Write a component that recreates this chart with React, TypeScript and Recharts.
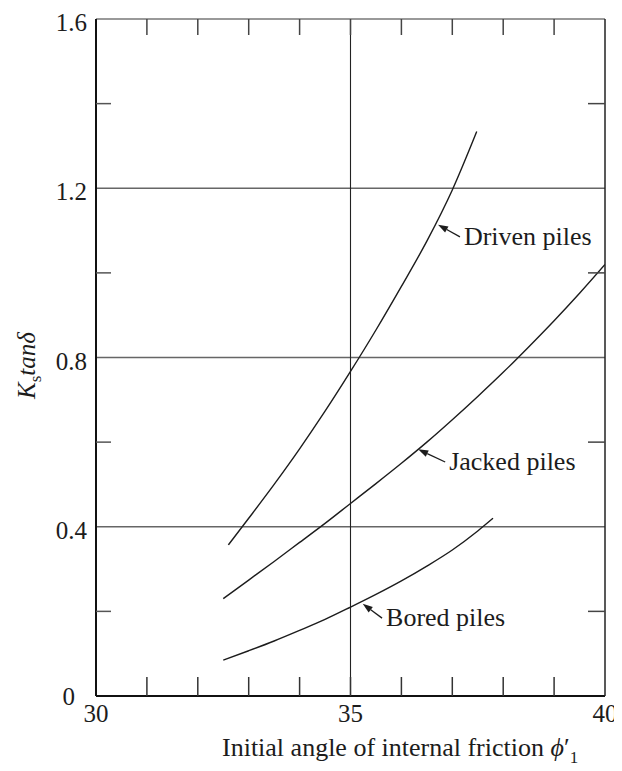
import { Line, LineChart, ReferenceLine, XAxis, YAxis } from 'recharts';

// axis ticks
const xTicks = [30, 35, 40];
const xMinorTicks = [31, 32, 33, 34, 35, 36, 37, 38, 39];
const yTicks = [0, 0.4, 0.8, 1.2, 1.6];
const yMinorTicks = [0.2, 0.6, 1.0, 1.4];
const gridY = [0.4, 0.8, 1.2];
const gridX = [35];

// phi' (deg) vs Ks tan(delta)
const drivenPhi = [32.6, 33, 33.5, 34, 34.5, 35, 35.5, 36, 36.5, 37, 37.48];
const drivenK = [0.357, 0.42, 0.5, 0.584, 0.673, 0.767, 0.865, 0.968, 1.075, 1.196, 1.334];

const jackedPhi = [32.5, 33, 33.5, 34, 34.5, 35, 35.5, 36, 36.5, 37, 37.5, 38, 38.5, 39, 39.5, 40];
const jackedK = [0.23, 0.274, 0.318, 0.363, 0.408, 0.455, 0.502, 0.55, 0.6, 0.653, 0.708, 0.765, 0.825, 0.887, 0.952, 1.02];

const boredPhi = [32.5, 33, 33.5, 34, 34.5, 35, 35.5, 36, 36.5, 37, 37.5, 37.8];
const boredK = [0.085, 0.107, 0.13, 0.155, 0.181, 0.21, 0.24, 0.272, 0.307, 0.345, 0.39, 0.42];

const zip = (xs: number[], ys: number[]) => xs.map((phi, i) => ({ phi, k: ys[i] }));
const driven = zip(drivenPhi, drivenK);
const jacked = zip(jackedPhi, jackedK);
const bored = zip(boredPhi, boredK);

// leader arrows: [tail, tip] in data units
const notes = [
  { text: 'Driven piles', tail: { x: 37.15, y: 1.085 }, tip: { x: 36.72, y: 1.114 } },
  { text: 'Jacked piles', tail: { x: 36.86, y: 0.553 }, tip: { x: 36.33, y: 0.583 } },
  { text: 'Bored piles', tail: { x: 35.62, y: 0.184 }, tip: { x: 35.24, y: 0.218 } },
];

const FONT = '"Liberation Serif", "Times New Roman", serif';
const INK = '#1c1c1c';

const noLabel = () => <g />;

function XTick({ x, y, payload }: any) {
  return (
    <text x={x} y={y} dy={26} textAnchor="middle" fontFamily={FONT} fontSize={25} fill={INK}>
      {payload.value}
    </text>
  );
}

function YTick({ x, y, payload }: any) {
  const zero = payload.value === 0;
  return (
    <text
      x={x}
      y={y}
      dx={zero ? -21 : -9}
      dy={zero ? 9 : 12}
      textAnchor="end"
      fontFamily={FONT}
      fontSize={25}
      fill={INK}
    >
      {zero ? '0' : payload.value.toFixed(1)}
    </text>
  );
}

function XTitle({ viewBox }: any) {
  return (
    <text x={viewBox.x + 126} y={viewBox.y + 60} fontFamily={FONT} fontSize={26} fill={INK}>
      Initial angle of internal friction{' '}
      <tspan fontStyle="italic">ϕ</tspan>
      <tspan>′</tspan>
      <tspan dx={0} dy={7} fontSize={17}>1</tspan>
    </text>
  );
}

function YTitle({ viewBox }: any) {
  const cx = viewBox.x + 27;
  const cy = viewBox.y + viewBox.height / 2 + 8;
  return (
    <text
      x={cx}
      y={cy}
      transform={`rotate(-90 ${cx} ${cy})`}
      textAnchor="middle"
      fontFamily={FONT}
      fontSize={25}
      fill={INK}
    >
      <tspan fontStyle="italic">K</tspan>
      <tspan fontSize={17} dy={6}>s</tspan>
      <tspan fontStyle="italic" dy={-6}>tanδ</tspan>
    </text>
  );
}

function Leader({ x1, y1, x2, y2, text }: any) {
  const a = Math.atan2(y2 - y1, x2 - x1);
  const len = 10;
  const w = 3.5;
  const bx = x2 - len * Math.cos(a);
  const by = y2 - len * Math.sin(a);
  const px = -Math.sin(a) * w;
  const py = Math.cos(a) * w;
  return (
    <g>
      <line x1={x1} y1={y1} x2={bx} y2={by} stroke={INK} strokeWidth={1.3} />
      <polygon points={`${x2},${y2} ${bx + px},${by + py} ${bx - px},${by - py}`} fill={INK} />
      <text x={x1 + 4} y={y1 + 8} fontFamily={FONT} fontSize={26} fill={INK}>
        {text}
      </text>
    </g>
  );
}

const curveProps = {
  yAxisId: 'y',
  dataKey: 'k',
  type: 'monotone' as const,
  stroke: INK,
  strokeWidth: 1.4,
  dot: false,
  activeDot: false,
  isAnimationActive: false,
};

export default function App() {
  return (
    <LineChart width={614} height={760} margin={{ top: 11, right: 17, bottom: 0, left: 0 }}>
      {/* bottom axis with labels */}
      <XAxis
        xAxisId="x"
        dataKey="phi"
        type="number"
        domain={[30, 40]}
        ticks={xTicks}
        allowDataOverflow
        height={72}
        tickLine={false}
        tickSize={0}
        tickMargin={0}
        axisLine={{ stroke: '#111', strokeWidth: 2 }}
        tick={<XTick />}
        label={<XTitle />}
      />
      {/* inward minor ticks bottom / top (same 30-40 scale) */}
      <XAxis
        xAxisId="xb"
        dataKey="phi"
        type="number"
        domain={[30, 40]}
        allowDataOverflow
        ticks={xMinorTicks}
        interval={0}
        mirror
        tick={noLabel}
        tickSize={19}
        tickLine={{ stroke: '#333', strokeWidth: 1.5 }}
        axisLine={false}
      />
      <XAxis
        xAxisId="xt"
        dataKey="phi"
        orientation="top"
        type="number"
        domain={[30, 40]}
        allowDataOverflow
        ticks={xMinorTicks}
        interval={0}
        mirror
        tick={noLabel}
        tickSize={16}
        tickLine={{ stroke: '#444', strokeWidth: 1.5 }}
        axisLine={{ stroke: '#777', strokeWidth: 1.5 }}
      />
      <YAxis
        yAxisId="y"
        dataKey="k"
        type="number"
        domain={[0, 1.6]}
        ticks={yTicks}
        allowDataOverflow
        width={88}
        tickLine={false}
        tickSize={0}
        tickMargin={0}
        axisLine={{ stroke: '#111', strokeWidth: 2 }}
        tick={<YTick />}
        label={<YTitle />}
      />
      <YAxis
        yAxisId="yl"
        type="number"
        domain={[0, 1.6]}
        allowDataOverflow
        ticks={yMinorTicks}
        interval={0}
        mirror
        tick={noLabel}
        tickSize={15}
        tickLine={{ stroke: '#555', strokeWidth: 1.5 }}
        axisLine={false}
      />
      <YAxis
        yAxisId="yr"
        orientation="right"
        type="number"
        domain={[0, 1.6]}
        allowDataOverflow
        ticks={yMinorTicks}
        interval={0}
        mirror
        tick={noLabel}
        tickSize={17}
        tickLine={{ stroke: '#444', strokeWidth: 1.5 }}
        axisLine={{ stroke: '#222', strokeWidth: 1.5 }}
      />

      {gridY.map((v) => (
        <ReferenceLine key={`gy${v}`} xAxisId="x" yAxisId="y" y={v} stroke="#666" strokeWidth={1.3} />
      ))}
      {gridX.map((v) => (
        <ReferenceLine key={`gx${v}`} xAxisId="x" yAxisId="y" x={v} stroke="#222" strokeWidth={1.1} />
      ))}

      <Line {...curveProps} xAxisId="xt" data={driven} name="Driven piles" />
      <Line {...curveProps} xAxisId="x" data={jacked} name="Jacked piles" />
      <Line {...curveProps} xAxisId="xb" data={bored} name="Bored piles" />

      {notes.map((n) => (
        <ReferenceLine
          key={n.text}
          xAxisId="x"
          yAxisId="y"
          segment={[n.tail, n.tip]}
          shape={(p: any) => <Leader {...p} text={n.text} />}
        />
      ))}
    </LineChart>
  );
}
